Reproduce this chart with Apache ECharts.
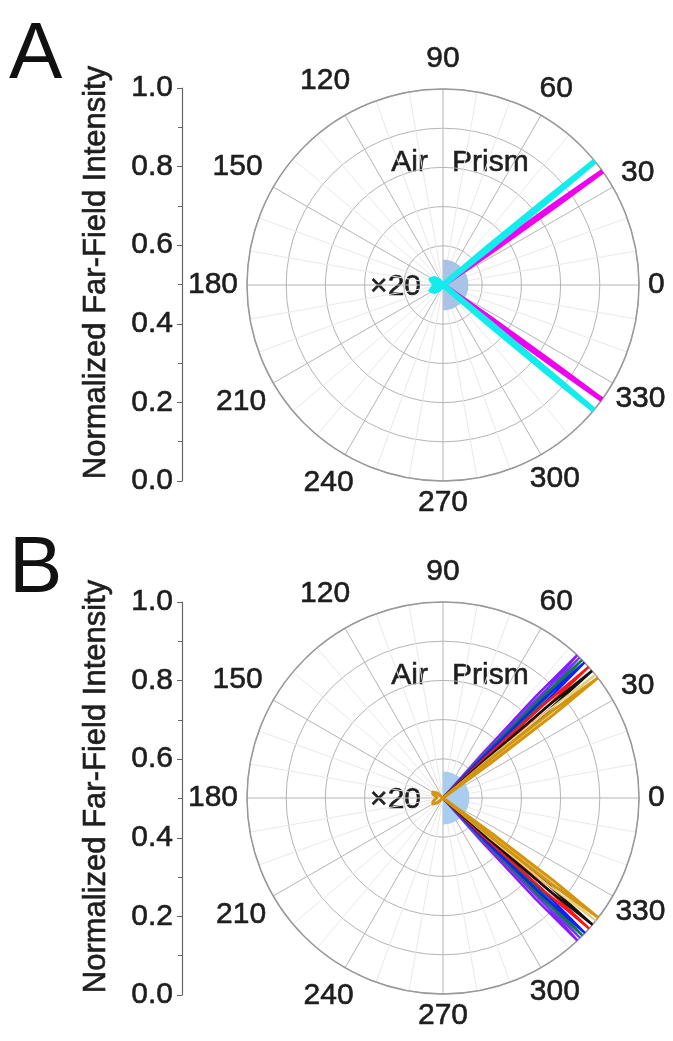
<!DOCTYPE html>
<html>
<head>
<meta charset="utf-8">
<script src="https://cdn.jsdelivr.net/npm/echarts@6/dist/echarts.min.js"></script>
<style>
html,body{margin:0;padding:0;background:#fff;}
#chart{width:673px;height:1041px;}
</style>
</head>
<body>
<div id="chart"></div>
<script>
// ---------- data ----------
const angleTicks = [0, 30, 60, 90, 120, 150, 180, 210, 240, 270, 300, 330];
const angleTickLabels = ['0', '30', '60', '90', '120', '150', '180', '210', '240', '270', '300', '330'];
const yTickLabels = ['0.0', '0.2', '0.4', '0.6', '0.8', '1.0'];
const panelLetters = ['A', 'B'];
const sideLabels = ['Air', 'Prism'];
const airScaleLabel = '\u00d720';
const yAxisTitle = 'Normalized Far-Field Intensity';

// escape-cone half disc radius (normalized)
const coneA = [0.13, 0];
const coneB = [0.135, 0];

// Panel A far-field lobes: [intensity, angle(deg)]
const magentaA = [
  [0,33.8],[0.3,34.7],[0.7,35.2],[1,35.5],[0.7,35.8],[0.3,36.3],[0,37.2],
  [0,322.5],[0.3,323.4],[0.7,323.9],[1,324.2],[0.7,324.5],[0.3,325.0],[0,325.9]
];
const cyanA = [
  [0,37.5],[0.3,38.4],[0.7,38.9],[1,39.2],[0.7,39.5],[0.3,40.0],[0,40.9],
  [0,318.6],[0.3,319.5],[0.7,320.0],[1,320.3],[0.7,320.6],[0.3,321.1],[0,322.0],
  [0,125],[0.03,135],[0.055,145],[0.065,155],[0.05,165],[0.03,180],[0.05,195],[0.065,205],[0.055,215],[0.03,225],[0,235]
];

// Panel B far-field lobes
const purpleB = [
  [0,44.2],[0.3,45.2],[0.7,46.0],[1,46.8],[0.7,47.6],[0.3,48.4],[0,49.4],
  [0,310.7],[0.3,311.7],[0.7,312.5],[1,313.3],[0.7,314.1],[0.3,314.9],[0,315.9]
];
const violetB = [
  [0,43.2],[0.3,44.2],[0.7,45.0],[1,45.8],[0.7,46.6],[0.3,47.4],[0,48.4],
  [0,311.8],[0.3,312.8],[0.7,313.6],[1,314.4],[0.7,315.2],[0.3,316.0],[0,317.0]
];
const greenB = [
  [0,42.2],[0.3,43.2],[0.7,44.0],[1,44.8],[0.7,45.6],[0.3,46.4],[0,47.4],
  [0,312.8],[0.3,313.8],[0.7,314.6],[1,315.4],[0.7,316.2],[0.3,317.0],[0,318.0]
];
const blueB = [
  [0,41.2],[0.3,42.2],[0.7,43.0],[1,43.8],[0.7,44.6],[0.3,45.4],[0,46.4],
  [0,313.8],[0.3,314.8],[0.7,315.6],[1,316.4],[0.7,317.2],[0.3,318.0],[0,319.0]
];
const redB = [
  [0,39.4],[0.3,40.4],[0.7,41.2],[1,42.0],[0.7,42.8],[0.3,43.6],[0,44.6],
  [0,315.6],[0.3,316.6],[0.7,317.4],[1,318.2],[0.7,319.0],[0.3,319.8],[0,320.8]
];
const blackB = [
  [0,37.9],[0.3,38.9],[0.7,39.7],[1,40.5],[0.7,41.3],[0.3,42.1],[0,43.1],
  [0,317.1],[0.3,318.1],[0.7,318.9],[1,319.7],[0.7,320.5],[0.3,321.3],[0,322.3]
];
const goldB = [
  [0,36.4],[0.3,37.4],[0.7,38.2],[1,39.0],[0.7,39.8],[0.3,40.6],[0,41.6],
  [0,318.6],[0.3,319.6],[0.7,320.4],[1,321.2],[0.7,322.0],[0.3,322.8],[0,323.8]
];
const orangeB = [
  [0,35.2],[0.3,36.2],[0.7,37.0],[1,37.8],[0.7,38.6],[0.3,39.4],[0,40.4],
  [0,319.8],[0.3,320.8],[0.7,321.6],[1,322.4],[0.7,323.2],[0.3,324.0],[0,325.0],
  [0,130],[0.04,140],[0.06,150],[0.055,160],[0.03,172],[0.02,180],[0.03,188],[0.055,200],[0.06,210],[0.04,220],[0,230]
];

// ---------- layout / style ----------
const FONT = '"Liberation Sans", Arial, Helvetica, sans-serif';
const TXT = '#1e1e1e';
const R = 196;
const CX = 443;
const panelCY = [285, 798];
const gridTop = [88, 602];
const LFS = 30;
const STROKE = {textBorderColor: TXT, textBorderWidth: 0.6};

const chart = echarts.init(document.getElementById('chart'), null, {renderer: 'canvas'});

const polar = [], angleAxis = [], radiusAxis = [], series = [], grid = [], xAxis = [], yAxis = [], graphic = [];

function labelData() {
  return angleTicks.map((a, i) => {
    const t = angleTickLabels[i];
    const w = t.length * 0.556 * LFS;
    const rad = a * Math.PI / 180;
    const c = Math.cos(rad), s = Math.sin(rad);
    const rPx = R + 9 + (w / 2) * Math.abs(c) + (s > 0 ? 21 : 13) * Math.abs(s) - (c > 0 ? 6 : 0) * Math.abs(s) * Math.abs(c) * 2;
    return {name: t, value: [rPx / R, a]};
  });
}

const panelSeries = [
  [{d: magentaA, c: '#f000f0', w: 5}, {d: cyanA, c: '#12ecec', w: 5.5}],
  [{d: purpleB, c: '#8c1aff', w: 2.5}, {d: violetB, c: '#6a3df0', w: 2.2}, {d: greenB, c: '#137a3e', w: 2.5},
   {d: blueB, c: '#1020ff', w: 2.5}, {d: redB, c: '#ff1414', w: 2.5}, {d: blackB, c: '#111111', w: 2.5},
   {d: goldB, c: '#e8cf7a', w: 2}, {d: orangeB, c: '#d39410', w: 3}]
];
const cones = [coneA, coneB];
const coneColors = ['#a8c3e6', '#a9cdee'];

for (let p = 0; p < 2; p++) {
  const cy = panelCY[p];
  const mainIdx = p * 2, discIdx = p * 2 + 1;
  polar.push({center: [CX, cy], radius: R});
  polar.push({center: [CX, cy], radius: R});
  angleAxis.push({
    polarIndex: mainIdx, type: 'value', min: 0, max: 360, interval: 30,
    startAngle: 0, clockwise: false,
    axisLine: {show: true, lineStyle: {color: '#999999', width: 1.5}},
    axisTick: {show: false}, axisLabel: {show: false},
    splitLine: {show: true, lineStyle: {color: '#b4b4b4', width: 1}},
    minorTick: {show: false, splitNumber: 3},
    minorSplitLine: {show: true, lineStyle: {color: '#e9e9e9', width: 1}}
  });
  angleAxis.push({
    polarIndex: discIdx, type: 'category', data: [sideLabels[1], sideLabels[0]],
    startAngle: 90, clockwise: true,
    axisLine: {show: false}, axisTick: {show: false}, axisLabel: {show: false}, splitLine: {show: false}
  });
  radiusAxis.push({
    polarIndex: mainIdx, type: 'value', min: 0, max: 1, interval: 0.2,
    axisLine: {show: false}, axisTick: {show: false}, axisLabel: {show: false},
    splitLine: {show: true, lineStyle: {color: '#b4b4b4', width: 1}}
  });
  radiusAxis.push({
    polarIndex: discIdx, type: 'value', min: 0, max: 1,
    axisLine: {show: false}, axisTick: {show: false}, axisLabel: {show: false}, splitLine: {show: false}
  });

  series.push({
    type: 'bar', coordinateSystem: 'polar', polarIndex: discIdx,
    data: cones[p], barCategoryGap: '0%', itemStyle: {color: coneColors[p]}, z: 1, silent: true
  });
  panelSeries[p].forEach(s => {
    series.push({
      type: 'line', coordinateSystem: 'polar', polarIndex: mainIdx,
      data: s.d, symbol: 'none', smooth: false, clip: false,
      lineStyle: {color: s.c, width: s.w, join: 'round'}, z: 3, silent: true
    });
  });
  series.push({
    type: 'scatter', coordinateSystem: 'polar', polarIndex: mainIdx, clip: false,
    data: labelData(), symbolSize: 1, itemStyle: {color: 'rgba(255,255,255,0)', opacity: 1}, silent: true, z: 4,
    label: Object.assign({show: true, position: 'inside', formatter: q => q.name, fontSize: LFS, fontFamily: FONT, color: TXT, opacity: 1}, STROKE)
  });

  grid.push({left: 182, top: gridTop[p], width: 1, height: 393});
  xAxis.push({gridIndex: p, type: 'value', show: false, min: 0, max: 1});
  yAxis.push({
    gridIndex: p, type: 'value', min: 0, max: 1, interval: 0.2, position: 'left',
    axisLine: {show: true, lineStyle: {color: '#666', width: 1.2}},
    axisTick: {show: true, length: 5, lineStyle: {color: '#666'}},
    minorTick: {show: true, splitNumber: 2, length: 4, lineStyle: {color: '#666'}},
    splitLine: {show: false},
    axisLabel: Object.assign({fontSize: LFS, fontFamily: FONT, color: TXT, margin: 9,
      formatter: v => yTickLabels[Math.round(v * 5)]}, STROKE),
    name: yAxisTitle, nameLocation: 'middle', nameGap: 70,
    nameTextStyle: Object.assign({fontSize: 31, fontFamily: FONT, color: TXT, padding: [0, 0, 0, 24]}, STROKE)
  });

  const tstyle = {font: LFS + 'px ' + FONT, fill: TXT, stroke: TXT, lineWidth: 0.6, verticalAlign: 'middle'};
  graphic.push({type: 'text', style: {x: 9, y: gridTop[p] - 72, text: panelLetters[p], font: '80px ' + FONT, fill: '#111', align: 'left', verticalAlign: 'top'}});
  graphic.push({type: 'text', style: Object.assign({x: CX - 15, y: cy - 122, text: sideLabels[0], align: 'right'}, tstyle)});
  graphic.push({type: 'text', style: Object.assign({x: CX + 9, y: cy - 122, text: sideLabels[1], align: 'left'}, tstyle)});
  graphic.push({type: 'text', style: Object.assign({x: CX - 22, y: cy + 2, text: airScaleLabel, align: 'right'}, tstyle)});
}

chart.setOption({
  animation: false,
  backgroundColor: '#ffffff',
  polar, angleAxis, radiusAxis, grid, xAxis, yAxis, series, graphic
});
</script>
</body>
</html>
